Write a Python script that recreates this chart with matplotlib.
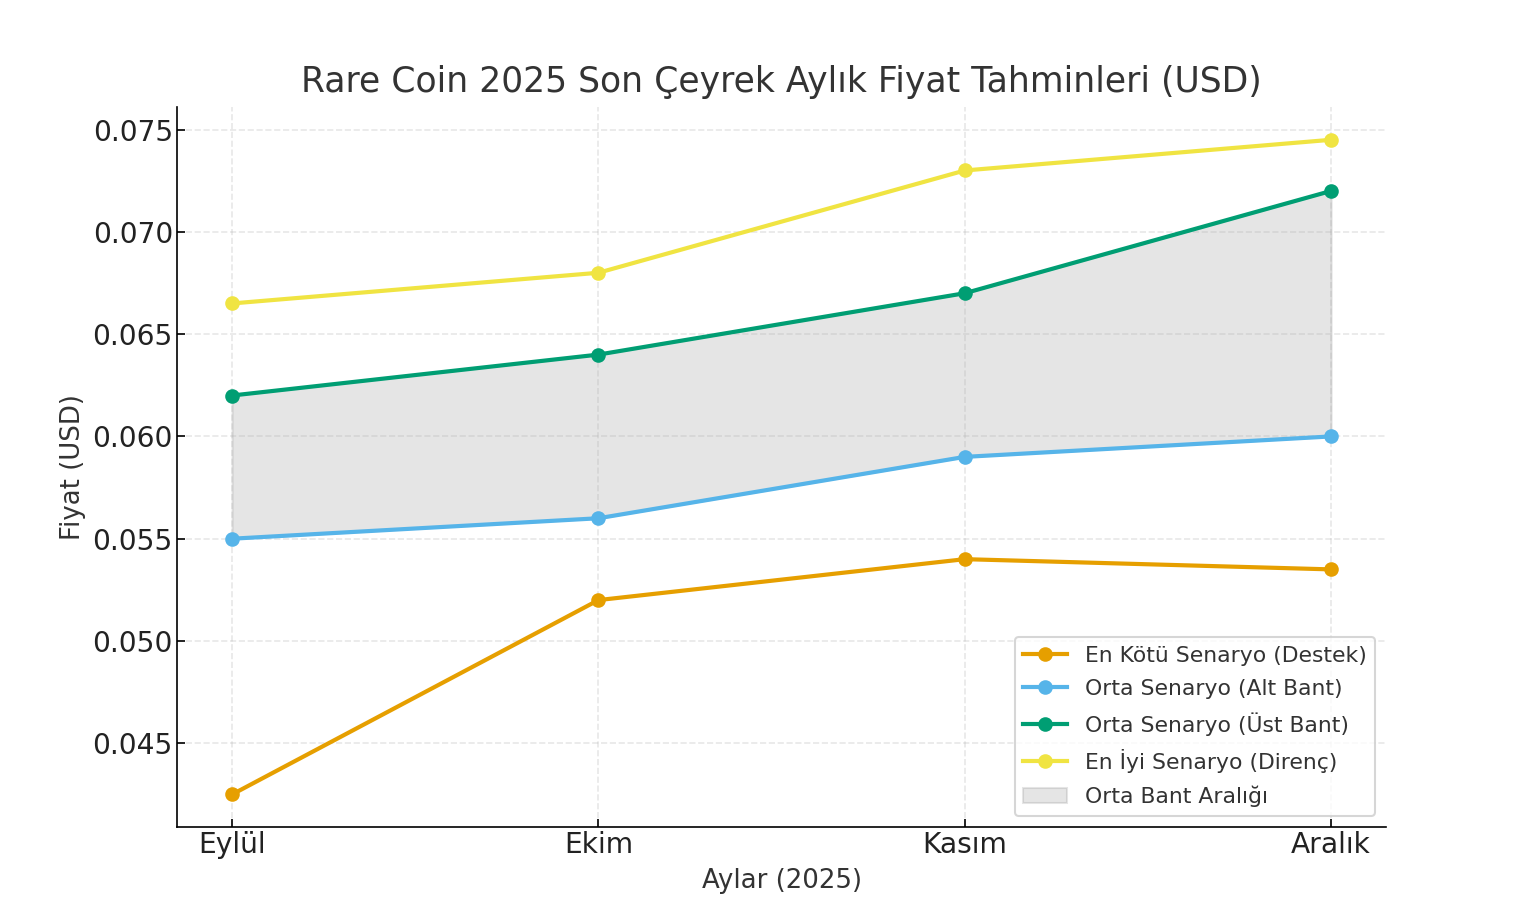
import matplotlib

matplotlib.use("Agg")

import matplotlib.pyplot as plt

months = ["Eylül", "Ekim", "Kasım", "Aralık"]
worst = [0.0425, 0.052, 0.054, 0.0535]
mid_low = [0.055, 0.056, 0.059, 0.060]
mid_high = [0.062, 0.064, 0.067, 0.072]
best = [0.0665, 0.068, 0.073, 0.0745]

plt.rcParams["font.family"] = ["DejaVu Sans"]
plt.rcParams["text.color"] = "#333333"
plt.rcParams["axes.labelcolor"] = "#333333"

fig = plt.figure(figsize=(1514 / 150, 915 / 150), dpi=150)
ax = fig.add_axes([0.117, 0.096, 0.7985, 0.787])

x = range(len(months))
ax.plot(x, worst, marker="o", color="#E69F00", lw=2, ms=6, label="En Kötü Senaryo (Destek)")
ax.plot(x, mid_low, marker="o", color="#56B4E9", lw=2, ms=6, label="Orta Senaryo (Alt Bant)")
ax.plot(x, mid_high, marker="o", color="#009E73", lw=2, ms=6, label="Orta Senaryo (Üst Bant)")
ax.plot(x, best, marker="o", color="#F0E442", lw=2, ms=6, label="En İyi Senaryo (Direnç)")
ax.fill_between(x, mid_low, mid_high, color="gray", alpha=0.2, label="Orta Bant Aralığı")

ax.set_xticks(list(x))
ax.set_xticklabels(months)
ax.set_title("Rare Coin 2025 Son Çeyrek Aylık Fiyat Tahminleri (USD)", fontsize=16.6, pad=7)
ax.set_xlabel("Aylar (2025)", fontsize=12.5, labelpad=4)
ax.set_ylabel("Fiyat (USD)", fontsize=12.5, labelpad=3)
ax.tick_params(labelsize=13.5, labelcolor="#222222", direction="in", length=4, pad=2)
ax.grid(True, linestyle="--", alpha=0.3)
ax.spines["top"].set_visible(False)
ax.spines["right"].set_visible(False)
ax.legend(loc="lower right", fontsize=10.5, labelspacing=0.6)

fig.savefig("out.png", dpi=150)
